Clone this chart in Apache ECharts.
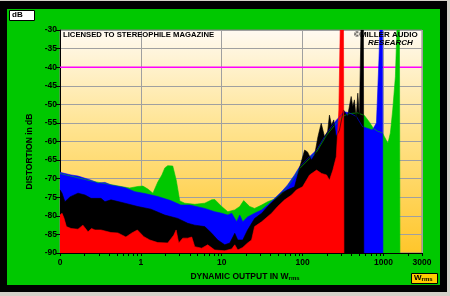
<!DOCTYPE html>
<html><head><meta charset="utf-8">
<script src="https://cdn.jsdelivr.net/npm/echarts@6/dist/echarts.min.js"></script>
<style>
html,body{margin:0;padding:0;background:#d4d0c8;}
#blk{position:absolute;left:0;top:1px;width:447px;height:291px;background:#000;}
#grn{position:absolute;left:7px;top:9px;width:433px;height:276px;background:#00c800;}
#chart{position:absolute;left:0;top:0;width:450px;height:296px;}
</style></head><body>
<div id="blk"></div><div id="grn"></div>
<div id="chart"></div>
<script>
// ---- data (power in W rms, distortion in dB) ----
const green = [[0.1,-68.6],[0.242,-70.6],[0.634,-72.3],[0.73,-72.5],[0.918,-72.1],[1.06,-72.0],[1.22,-72.8],[1.41,-73.9],[1.62,-70.9],[1.82,-69.0],[1.98,-67.1],[2.15,-66.5],[2.48,-66.6],[2.74,-70.4],[3.03,-76.0],[3.49,-76.6],[4.64,-76.9],[6.17,-76.6],[7.53,-75.7],[8.2,-75.6],[10,-77.5],[11.9,-78.9],[14.5,-78.4],[16.7,-77.5],[18.7,-75.9],[22.2,-77.5],[25.5,-78.0],[31.2,-77.1],[37,-76.2],[45.1,-75.5],[55,-74.0],[65.3,-72.2],[79.6,-69.5],[91.8,-67.3],[122,-64.6],[149,-62.8],[198,-58.3],[263,-55],[330,-53],[380,-52.5],[478,-52.3],[582,-53.0],[672,-54.8],[753,-56.5],[844,-57.2],[973,-57.7],[1029,-58.7],[1137,-60.5],[1219,-57.7],[1303,-51.5],[1406,-42.6],[1468,-30],[1578,-30],[1600,-90]];
const blue = [[0.1,-68.3],[0.137,-69.0],[0.167,-69.3],[0.242,-70.4],[0.294,-71.2],[0.36,-71.0],[0.427,-71.7],[0.634,-72.4],[0.843,-73.5],[1.12,-74.0],[1.62,-74.8],[2.34,-75.9],[3.12,-77.1],[4.03,-77.1],[6.17,-78.0],[8.2,-78.9],[10,-79.3],[11.9,-79.8],[13.3,-79.3],[15.3,-81.6],[16.7,-79.8],[18.2,-81.6],[20.9,-80.3],[25.5,-79.3],[31.2,-78.4],[37,-77.1],[45.1,-75.3],[55,-73.5],[65.3,-71.7],[79.6,-69.0],[91.8,-66.8],[122,-64.1],[149,-62.3],[198,-57.8],[263,-54.2],[330,-52.0],[380,-52.3],[464,-53.3],[551,-56.0],[731,-56.9],[820,-55.0],[880,-38.1],[905,-30],[973,-30],[986,-90]];
const black = [[0.1,-73.0],[0.106,-73.9],[0.115,-76.2],[0.133,-74.9],[0.167,-73.9],[0.204,-74.4],[0.242,-75.3],[0.321,-75.3],[0.36,-76.2],[0.427,-75.7],[0.634,-76.6],[0.918,-77.5],[1.33,-78.2],[1.98,-79.8],[2.86,-80.7],[3.8,-82.0],[4.64,-82.5],[6.17,-82.9],[7.53,-84.7],[8.93,-86.5],[10.9,-87.8],[12.6,-87.3],[14.5,-84.7],[15.8,-86.5],[18.2,-86.5],[20.9,-83.8],[25.5,-80.7],[31.2,-79.3],[37,-77.5],[45.1,-75.7],[55,-73.9],[65.3,-73.0],[79.6,-72.2],[91.8,-67.1],[106,-62.3],[115,-62.8],[129,-65.0],[141,-63.6],[155,-58.7],[170,-55.1],[187,-58.7],[204,-57.4],[215,-52.9],[228,-55.6],[243,-54.2],[260,-58.7],[286,-56.9],[321,-51.5],[360,-53.3],[399,-47.9],[418,-50.6],[438,-48.8],[460,-53.7],[482,-47.0],[505,-53.3],[527,-30],[566,-30],[572,-90]];
const red = [[0.1,-79.8],[0.106,-79.3],[0.112,-80.6],[0.120,-82.9],[0.137,-83.4],[0.167,-83.6],[0.192,-82.5],[0.222,-84.3],[0.245,-83.4],[0.271,-83.8],[0.321,-83.8],[0.427,-84.5],[0.52,-84.6],[0.653,-85.7],[0.775,-84.6],[0.906,-83.8],[1.09,-85.6],[1.29,-86.5],[1.62,-87.2],[2.15,-87.3],[2.55,-85.2],[2.73,-83.8],[2.94,-87.3],[3.3,-86.0],[3.8,-86.0],[4.26,-85.7],[4.64,-88.3],[5.66,-88.7],[6.71,-87.8],[8.2,-89.2],[10.9,-89.4],[13.3,-88.9],[14.5,-87.8],[15.8,-89.2],[18.2,-88.5],[20.9,-87.3],[23.4,-86.5],[25.5,-82.9],[31.2,-81.6],[41.4,-79.3],[49.1,-77.5],[60,-75.7],[73.1,-74.4],[84.3,-73.0],[100,-72.2],[122,-69.0],[149,-67.7],[172,-68.6],[198,-69.0],[215,-70.4],[237,-67.7],[261,-64.1],[281,-51.5],[292,-30],[321,-30],[325,-90]];
const limitDb = -40;
const xMin = 0.1, xMax = 3000;
const yMin = -90, yMax = -30, yStep = 5;
const minorTicks = [0.2,0.3,0.4,0.5,0.6,0.7,0.8,0.9,2,3,4,5,6,7,8,9,20,30,40,50,60,70,80,90,200,300,400,500,600,700,800,900,2000];

const FONT = 'Liberation Sans';
const chart = echarts.init(document.getElementById('chart'), null, {renderer:'canvas'});
function area(name, data, color){
  return {name, type:'line', data, z:2, showSymbol:false, symbol:'none', smooth:false,
    sampling:null, lineStyle:{width:0.6, color}, itemStyle:{color},
    areaStyle:{color, opacity:1, origin:'start'}, animation:false, silent:true};
}
chart.setOption({
  backgroundColor:'transparent',
  animation:false,
  textStyle:{fontFamily:FONT},
  title:{text:'LICENSED TO STEREOPHILE MAGAZINE', left:63, top:31, padding:0,
    textStyle:{fontSize:7.7, fontWeight:'bold', color:'#000', fontFamily:FONT}},
  grid:{left:60, top:30, right:28, bottom:43, show:true, borderColor:'#808080', borderWidth:1,
    backgroundColor:new echarts.graphic.LinearGradient(0,0,0,1,[
      {offset:0,color:'#fffaf2'},{offset:0.45,color:'#ffe38e'},{offset:1,color:'#ffc62a'}])},
  xAxis:{type:'log', logBase:10, min:xMin, max:xMax,
    name:'DYNAMIC OUTPUT IN W{s|rms}', nameLocation:'middle', nameGap:17,
    nameTextStyle:{fontSize:8.5, fontWeight:'bold', color:'#000', fontFamily:FONT, padding:[0,0,0,8],
      rich:{s:{fontSize:6, fontWeight:'bold', color:'#000', fontFamily:FONT, padding:[3,0,0,0]}}},
    axisLine:{show:true, lineStyle:{color:'#000', width:1}},
    axisTick:{show:true, length:3, lineStyle:{color:'#000'}},
    axisLabel:{fontSize:8.5, fontWeight:'bold', color:'#000', margin:5, fontFamily:FONT,
      showMaxLabel:true, showMinLabel:true,
      formatter:function(v){ return v < 0.5 ? '0' : String(Math.round(v)); }},
    splitLine:{show:true, lineStyle:{color:'#a0a0a0', width:1}},
    minorTick:{show:false}},
  yAxis:{type:'value', min:yMin, max:yMax, interval:yStep,
    name:'DISTORTION in dB', nameLocation:'middle', nameGap:21, nameRotate:90,
    nameTextStyle:{fontSize:8.5, fontWeight:'bold', color:'#000', fontFamily:FONT, padding:[0,20,0,0]},
    axisLine:{show:true, lineStyle:{color:'#000', width:1}},
    axisTick:{show:true, length:4, lineStyle:{color:'#000'}},
    axisLabel:{fontSize:8.5, fontWeight:'bold', color:'#000', margin:3, fontFamily:FONT},
    splitLine:{show:true, lineStyle:{color:'#a0a0a0', width:1}}},
  series:[
    {type:'line', z:1, data:[[xMin,limitDb],[xMax,limitDb]], showSymbol:false, symbol:'none',
      lineStyle:{color:'#ff00ff', width:1.5}, silent:true, animation:false},
    area('green', green, '#00c800'),
    area('blue', blue, '#0000ff'),
    area('black', black, '#000000'),
    area('red', red, '#ff0000'),
    {type:'custom', z:3, clip:false, silent:true, animation:false,
      data:minorTicks.map(v=>[v, yMin]),
      renderItem:function(params, api){
        const p = api.coord([api.value(0), api.value(1)]);
        const x = Math.round(p[0]) + 0.5;
        return {type:'line', shape:{x1:x, y1:p[1], x2:x, y2:p[1]+3}, style:{stroke:'#000', lineWidth:1}};
      }}
  ],
  graphic:[
    {type:'rect', left:9, top:10, shape:{width:25, height:10}, style:{fill:'#fff', stroke:'#000', lineWidth:1}},
    {type:'text', left:12, top:11, style:{text:'dB', fontSize:8, fontWeight:'bold', fill:'#000', fontFamily:FONT}},
    {type:'rect', left:411, top:273, shape:{width:26, height:10}, style:{fill:'#ffcc00', stroke:'#000', lineWidth:1}},
    {type:'text', left:414, top:274, style:{text:'W{s|rms}', fontSize:8, fontWeight:'bold', fill:'#000', fontFamily:FONT,
      rich:{s:{fontSize:6, fontWeight:'bold', fill:'#000', fontFamily:FONT, padding:[2,0,0,0]}}}},
    {type:'text', left:354, top:31, z:10, style:{text:'\u00A9MILLER AUDIO', fontSize:8, fontWeight:'bold', fill:'#000', fontFamily:FONT}},
    {type:'text', left:368, top:39, z:10, style:{text:'RESEARCH', fontSize:8, fontWeight:'bold', fontStyle:'italic', fill:'#000', fontFamily:FONT}}
  ]
});
</script>
</body></html>
